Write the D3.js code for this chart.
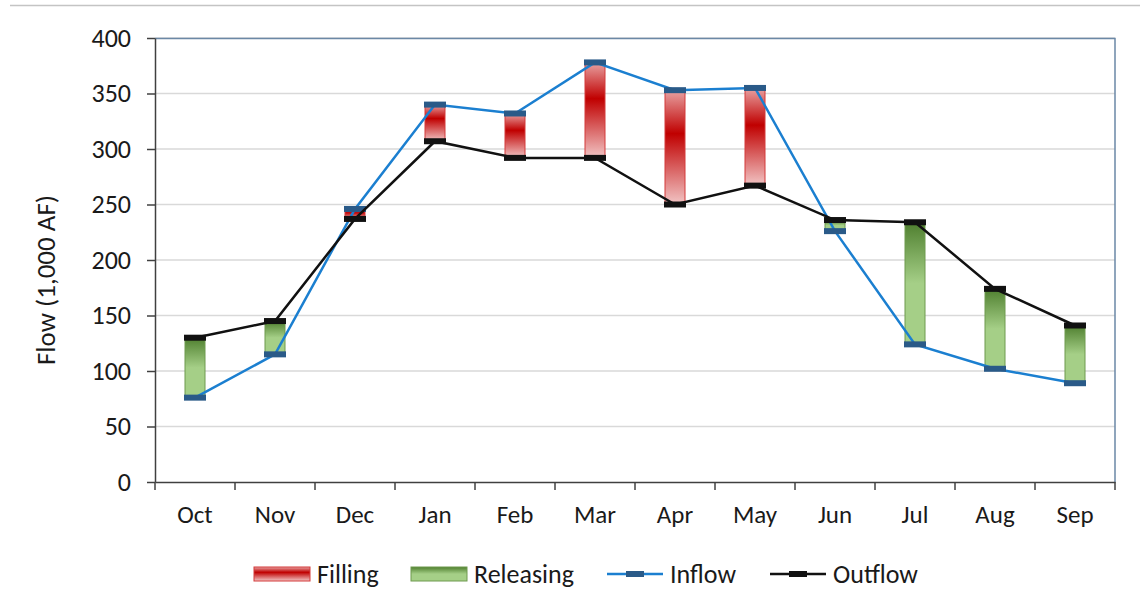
<!DOCTYPE html>
<html>
<head>
<meta charset="utf-8">
<script src="https://cdn.jsdelivr.net/npm/d3@7"></script>
<style>
  body { margin: 0; background: #fff; }
  svg text { font-family: Carlito, "Liberation Sans Narrow", "Open Sans", sans-serif; fill: #1a1a1a; }
</style>
</head>
<body>
<div id="chart"></div>
<script>
// Data (1,000 AF)
const months = ["Oct", "Nov", "Dec", "Jan", "Feb", "Mar", "Apr", "May", "Jun", "Jul", "Aug", "Sep"];
const inflow = [76, 115, 246, 340, 332, 378, 353, 355, 226, 124, 102, 89];
const outflow = [130, 145, 237, 307, 292, 292, 250, 267, 236, 234, 174, 141];
const yTicks = [0, 50, 100, 150, 200, 250, 300, 350, 400];

const width = 1140, height = 597;
const margin = { top: 38, right: 25, bottom: 115, left: 155 };
const plotW = width - margin.left - margin.right;
const plotH = height - margin.top - margin.bottom;

const svg = d3.select("#chart").append("svg")
  .attr("width", width)
  .attr("height", height);

// thin top rule
svg.append("line")
  .attr("x1", 10).attr("x2", width).attr("y1", 5.5).attr("y2", 5.5)
  .attr("stroke", "#c4c4c4").attr("stroke-width", 1.5);

const defs = svg.append("defs");
const red = defs.append("linearGradient").attr("id", "gradRed")
  .attr("x1", 0).attr("x2", 0).attr("y1", 0).attr("y2", 1);
red.append("stop").attr("offset", "0%").attr("stop-color", "#e8a3a3");
red.append("stop").attr("offset", "38%").attr("stop-color", "#c00000");
red.append("stop").attr("offset", "100%").attr("stop-color", "#f2c6c6");
const green = defs.append("linearGradient").attr("id", "gradGreen")
  .attr("x1", 0).attr("x2", 0).attr("y1", 0).attr("y2", 1);
green.append("stop").attr("offset", "0%").attr("stop-color", "#4f7f2f");
green.append("stop").attr("offset", "50%").attr("stop-color", "#a5cf87");
green.append("stop").attr("offset", "100%").attr("stop-color", "#a5cf87");

const g = svg.append("g").attr("transform", `translate(${margin.left},${margin.top})`);

const x = d3.scaleBand().domain(months).range([0, plotW]);
const y = d3.scaleLinear().domain([0, 400]).range([plotH, 0]);
const cx = d => x(d) + x.bandwidth() / 2;

// gridlines
g.append("g").selectAll("line")
  .data(yTicks.slice(1))
  .join("line")
  .attr("x1", 0).attr("x2", plotW)
  .attr("y1", d => y(d)).attr("y2", d => y(d))
  .attr("stroke", "#d9d9d9").attr("stroke-width", 1.5);

// plot border (top/right)
g.append("path")
  .attr("d", `M0,0.5H${plotW}V${plotH}`)
  .attr("fill", "none").attr("stroke", "#6b88a6").attr("stroke-width", 1.5);

// axes
const yAxis = g.append("g")
  .call(d3.axisLeft(y).tickValues(yTicks).tickSize(8).tickPadding(16).tickSizeOuter(0));
yAxis.selectAll("text").style("font-size", "26px");

const xAxis = g.append("g")
  .attr("transform", `translate(0,${plotH})`)
  .call(d3.axisBottom(x).tickSize(0));
xAxis.selectAll("text").style("font-size", "25px").attr("y", 41).attr("dy", 0);
xAxis.selectAll(".tick line").remove();
// band boundary ticks
xAxis.selectAll(".bound")
  .data(months.concat(["end"]))
  .join("line")
  .attr("x1", (d, i) => i * x.bandwidth()).attr("x2", (d, i) => i * x.bandwidth())
  .attr("y1", 0).attr("y2", 8)
  .attr("stroke", "#404040").attr("stroke-width", 1.5);
g.selectAll(".domain").attr("stroke", "#404040").attr("stroke-width", 1.5);
g.selectAll(".tick line").attr("stroke", "#404040").attr("stroke-width", 1.5);

// floating bars
const barW = 20;
g.append("g").selectAll("rect")
  .data(months)
  .join("rect")
  .attr("x", d => cx(d) - barW / 2)
  .attr("width", barW)
  .attr("y", (d, i) => y(Math.max(inflow[i], outflow[i])))
  .attr("height", (d, i) => Math.abs(y(inflow[i]) - y(outflow[i])))
  .attr("fill", (d, i) => inflow[i] >= outflow[i] ? "url(#gradRed)" : "url(#gradGreen)")
  .attr("stroke", (d, i) => inflow[i] >= outflow[i] ? "#d43a3a" : "#6f9a4f")
  .attr("stroke-width", 1);

// lines
function drawSeries(values, lineColor, markColor) {
  const line = d3.line().x((d, i) => cx(months[i])).y(d => y(d));
  g.append("path").datum(values)
    .attr("d", line)
    .attr("fill", "none").attr("stroke", lineColor).attr("stroke-width", 2.5);
  g.append("g").selectAll("rect")
    .data(values)
    .join("rect")
    .attr("x", (d, i) => cx(months[i]) - 11)
    .attr("y", d => y(d) - 3)
    .attr("width", 22).attr("height", 6)
    .attr("fill", markColor);
}
drawSeries(inflow, "#1b7fd0", "#2a5a88");
drawSeries(outflow, "#111111", "#111111");

// y axis title
svg.append("text")
  .attr("transform", `translate(55,280) rotate(-90)`)
  .attr("text-anchor", "middle")
  .style("font-size", "27px")
  .text("Flow (1,000 AF)");

// legend
const leg = svg.append("g").attr("transform", "translate(0,574)");
const legItems = [
  { type: "bar", fill: "url(#gradRed)", stroke: "#d43a3a", x: 254, label: "Filling" },
  { type: "bar", fill: "url(#gradGreen)", stroke: "#6f9a4f", x: 411, label: "Releasing" },
  { type: "line", line: "#1b7fd0", mark: "#2a5a88", x: 607, label: "Inflow" },
  { type: "line", line: "#111111", mark: "#111111", x: 770, label: "Outflow" }
];
legItems.forEach(it => {
  if (it.type === "bar") {
    leg.append("rect").attr("x", it.x).attr("y", -7).attr("width", 56).attr("height", 14)
      .attr("fill", it.fill).attr("stroke", it.stroke);
  } else {
    leg.append("line").attr("x1", it.x).attr("x2", it.x + 56).attr("y1", 0).attr("y2", 0)
      .attr("stroke", it.line).attr("stroke-width", 2.5);
    leg.append("rect").attr("x", it.x + 19).attr("y", -3).attr("width", 18).attr("height", 6)
      .attr("fill", it.mark);
  }
  leg.append("text").attr("x", it.x + 63).attr("y", 9)
    .style("font-size", "26px").text(it.label);
});
</script>
</body>
</html>
